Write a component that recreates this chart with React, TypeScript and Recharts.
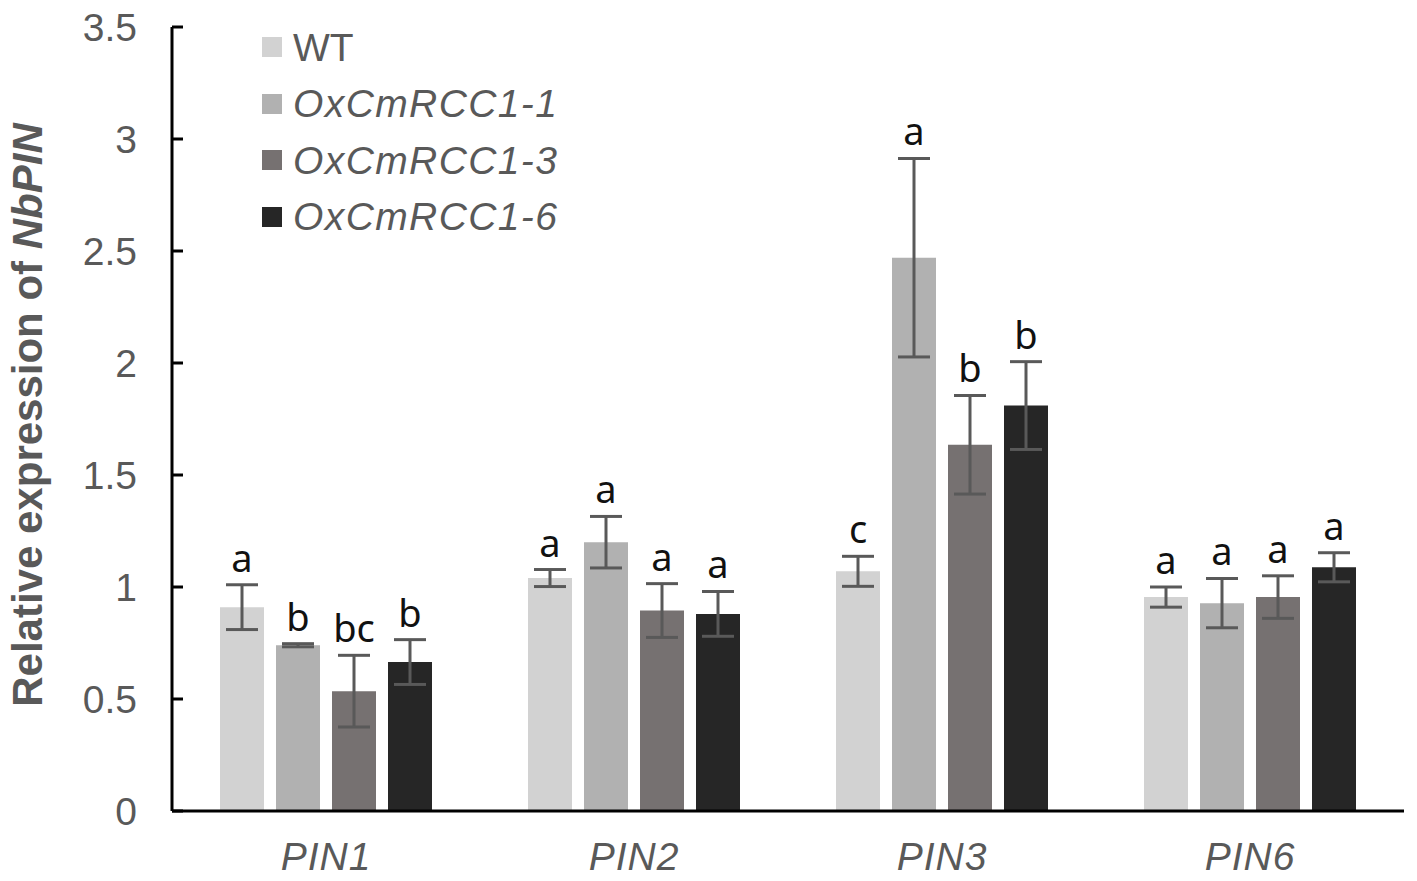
import React from 'react';
import {
  BarChart,
  Bar,
  XAxis,
  YAxis,
  ErrorBar,
  LabelList,
  Legend,
  Label
} from 'recharts';

// Values (mean and error half-width per gene)
const genes = ['PIN1', 'PIN2', 'PIN3', 'PIN6'];

const wt = [0.91, 1.04, 1.07, 0.955];
const wtErr = [0.1, 0.038, 0.067, 0.045];
const ox1 = [0.74, 1.2, 2.47, 0.928];
const ox1Err = [0.007, 0.115, 0.443, 0.11];
const ox3 = [0.535, 0.895, 1.635, 0.955];
const ox3Err = [0.16, 0.12, 0.22, 0.095];
const ox6 = [0.665, 0.88, 1.81, 1.088];
const ox6Err = [0.1, 0.1, 0.196, 0.065];

// significance letters
const wtSig = ['a', 'a', 'c', 'a'];
const ox1Sig = ['b', 'a', 'a', 'a'];
const ox3Sig = ['bc', 'a', 'b', 'a'];
const ox6Sig = ['b', 'a', 'b', 'a'];

const yTicks = [0, 0.5, 1, 1.5, 2, 2.5, 3, 3.5];

const SERIES = [
  { key: 'wt', name: 'WT', color: '#d2d2d2', values: wt, errs: wtErr, sig: wtSig, italic: false },
  { key: 'ox1', name: 'OxCmRCC1-1', color: '#b1b1b1', values: ox1, errs: ox1Err, sig: ox1Sig, italic: true },
  { key: 'ox3', name: 'OxCmRCC1-3', color: '#767171', values: ox3, errs: ox3Err, sig: ox3Sig, italic: true },
  { key: 'ox6', name: 'OxCmRCC1-6', color: '#262626', values: ox6, errs: ox6Err, sig: ox6Sig, italic: true },
];

const data = genes.map((g, i) => {
  const row: any = { gene: g };
  SERIES.forEach((s) => {
    row[s.key] = s.values[i];
    row[s.key + 'Err'] = s.errs[i];
    row[s.key + 'Sig'] = s.sig[i];
  });
  return row;
});

const AXIS_FONT = '"Liberation Sans", Arial, sans-serif';
const GREY = '#595959';

const YTick = (props: any) => {
  const { x, y, payload } = props;
  return (
    <g>
      <line x1={x} x2={x + 11} y1={y} y2={y} stroke="#000" strokeWidth={3} />
      <text
        x={x - 35}
        y={y}
        dy="0.36em"
        textAnchor="end"
        fill={GREY}
        fontSize={39}
        fontFamily={AXIS_FONT}
      >
        {payload.value}
      </text>
    </g>
  );
};

const XTick = (props: any) => {
  const { x, y, payload } = props;
  return (
    <text
      x={x}
      y={y + 45}
      dy="0.36em"
      textAnchor="middle"
      fill={GREY}
      fontSize={39}
      fontStyle="italic"
      letterSpacing={1}
      fontFamily={AXIS_FONT}
    >
      {payload.value}
    </text>
  );
};

const LegendBox = () => (
  <div style={{ fontFamily: AXIS_FONT }}>
    {SERIES.map((s) => (
      <div key={s.key} style={{ display: 'flex', alignItems: 'center', height: 56.5 }}>
        <div style={{ width: 20, height: 20, background: s.color, marginRight: 11 }} />
        <span
          style={{
            fontSize: 39,
            color: GREY,
            fontStyle: s.italic ? 'italic' : 'normal',
            letterSpacing: s.italic ? 1.4 : 0,
            lineHeight: 1,
          }}
        >
          {s.name}
        </span>
      </div>
    ))}
  </div>
);

const makeSigLabel = (values: number[], errs: number[]) => (props: any) => {
  const { x, y, width, height, index, value } = props;
  const h = Number(height);
  const errPx = (h * errs[index]) / values[index];
  return (
    <text
      x={Number(x) + Number(width) / 2}
      y={Number(y) - errPx - 13}
      textAnchor="middle"
      fill="#111"
      fontSize={38}
      fontFamily='"Noto Sans", sans-serif'
    >
      {value}
    </text>
  );
};

export default function App() {
  return (
    <div style={{ position: 'absolute', left: 0, top: 0, width: 1417, height: 881, background: '#fff' }}>
      <BarChart
        width={1417}
        height={881}
        data={data}
        margin={{ top: 27, right: 13, bottom: 0, left: 0 }}
        barCategoryGap={48}
        barGap={12}
      >
        <XAxis
          dataKey="gene"
          height={70}
          tickLine={false}
          tickSize={0}
          tickMargin={0}
          axisLine={{ stroke: '#000', strokeWidth: 3 }}
          tick={<XTick />}
        />
        <YAxis
          width={172}
          domain={[0, 3.5]}
          ticks={yTicks}
          interval={0}
          tickLine={false}
          tickSize={0}
          tickMargin={0}
          axisLine={{ stroke: '#000', strokeWidth: 3 }}
          tick={<YTick />}
        >
          <Label
            content={(p: any) => {
              const vb = p.viewBox;
              const cy = vb.y + vb.height / 2 - 4;
              return (
                <text
                  x={42}
                  y={cy}
                  transform={`rotate(-90 42 ${cy})`}
                  textAnchor="middle"
                  fill={GREY}
                  fontSize={42}
                  fontWeight="bold"
                  fontFamily={AXIS_FONT}
                >
                  Relative expression of <tspan fontStyle="italic">NbPIN</tspan>
                </text>
              );
            }}
          />
        </YAxis>
        <Legend
          layout="vertical"
          align="center"
          verticalAlign="middle"
          content={<LegendBox />}
          wrapperStyle={{ left: 262, top: 19, width: 320 }}
        />
        {SERIES.map((s) => (
          <Bar key={s.key} dataKey={s.key} name={s.name} fill={s.color} isAnimationActive={false}>
            <ErrorBar dataKey={s.key + 'Err'} width={16} stroke={GREY} strokeWidth={3} direction="y" />
            <LabelList dataKey={s.key + 'Sig'} content={makeSigLabel(s.values, s.errs)} />
          </Bar>
        ))}
      </BarChart>
    </div>
  );
}
